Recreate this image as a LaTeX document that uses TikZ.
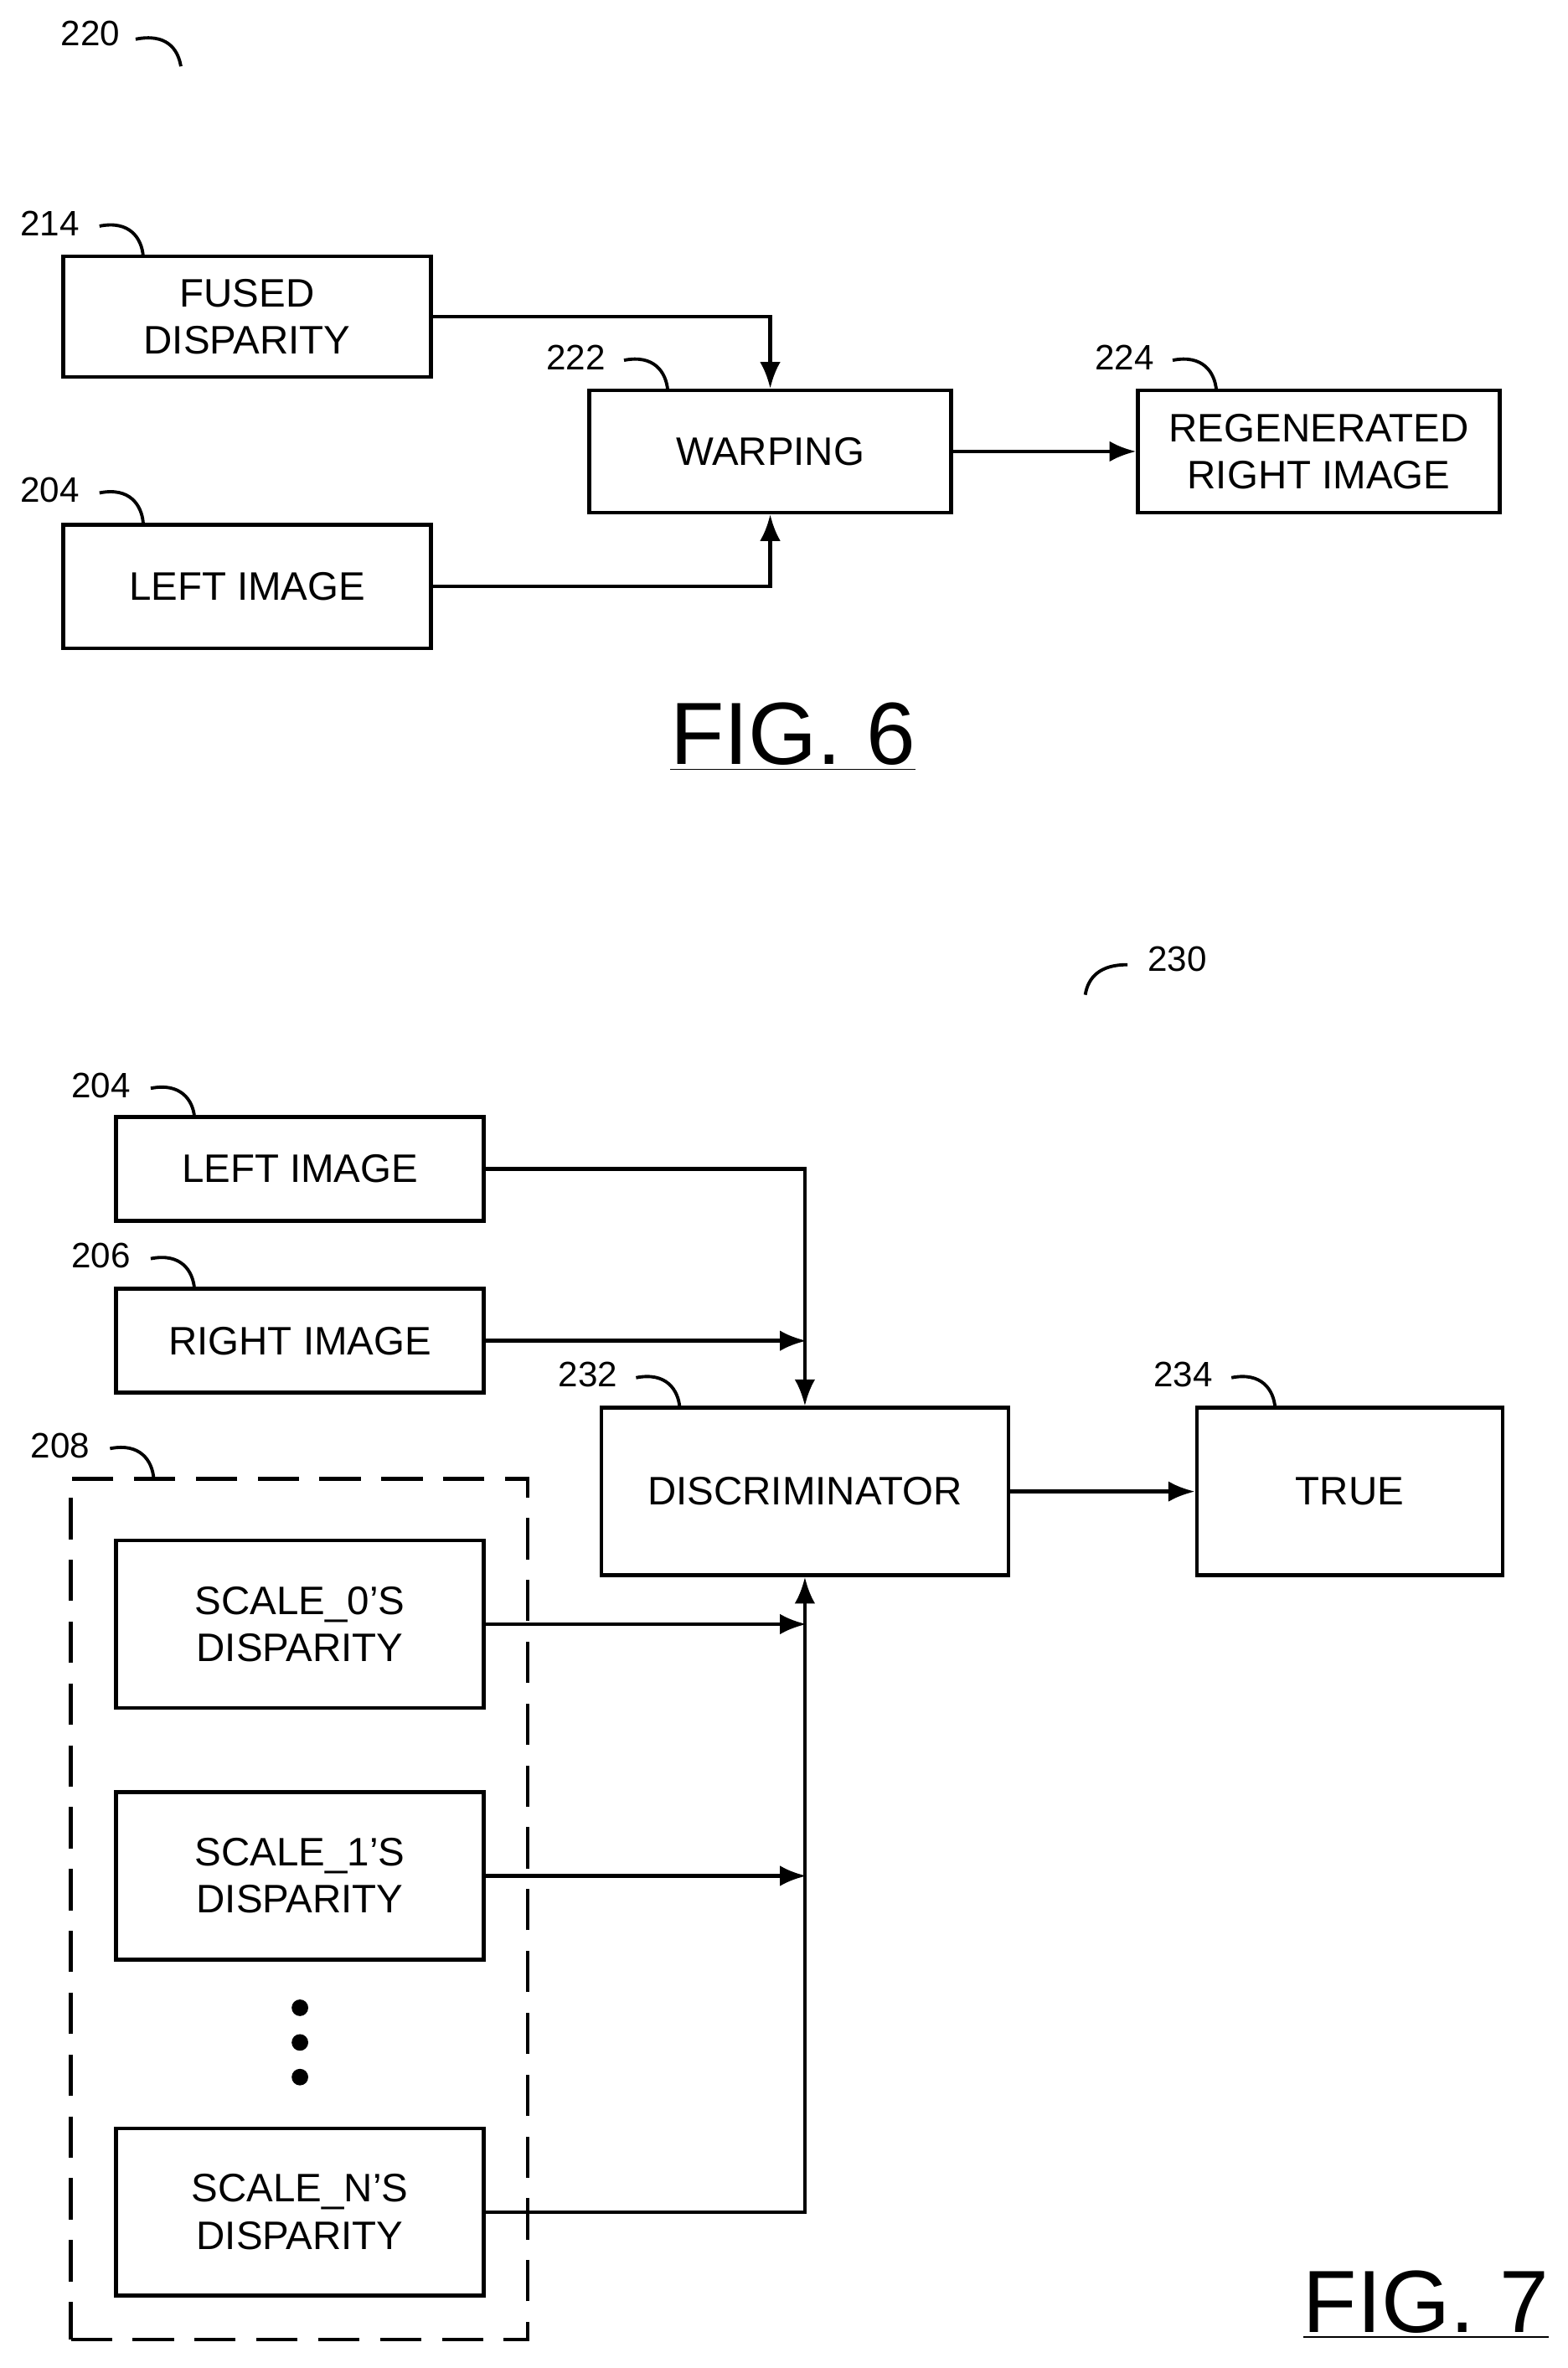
\documentclass[tikz,border=0pt]{standalone}
\usepackage{fontspec}
\setmainfont{Liberation Sans}
\begin{document}
\begin{tikzpicture}[x=0.01799cm,y=-0.01799cm,
 box/.style={draw,line width=1.3pt,inner sep=0pt,align=center,font=\fontsize{13.5}{16}\selectfont},
 lab/.style={font=\fontsize{12}{14}\selectfont,inner sep=1pt},
 arr/.style={line width=1.3pt,-{Latex[length=9pt,width=7pt]}},
 ln/.style={line width=1.3pt},
 curl/.style={line width=1.1pt}]
\usetikzlibrary{arrows.meta}
\useasboundingbox (0,0) rectangle (1040,1571);
% FIG 6
\node[box,minimum width=244*0.01799cm,minimum height=80*0.01799cm] (fd) at (164,210) {FUSED\\DISPARITY};
\node[box,minimum width=244*0.01799cm,minimum height=82*0.01799cm] (li6) at (164,389) {LEFT IMAGE};
\node[box,minimum width=240*0.01799cm,minimum height=81*0.01799cm] (wp) at (511,299.5) {WARPING};
\node[box,minimum width=240*0.01799cm,minimum height=81*0.01799cm] (rr) at (875,299.5) {REGENERATED\\RIGHT IMAGE};
\draw[arr] (fd.east) -| (wp.north);
\draw[arr] (li6.east) -| (wp.south);
\draw[arr] (wp.east) -- (rr.west);
\node[lab] (l220) at (60,22) {220};
\draw[curl] (90,26) .. controls (110,22) and (118,32) .. (120,44);
\node[lab] (l214) at (33,148) {214};
\draw[curl] (66,150) .. controls (86,146) and (94,158) .. (95,170);
\node[lab] (l204a) at (33,325) {204};
\draw[curl] (66,327) .. controls (86,323) and (94,335) .. (95,347);
\node[lab] (l222) at (382,237) {222};
\draw[curl] (414,239) .. controls (434,235) and (442,247) .. (443,259);
\node[lab] (l224) at (746,237) {224};
\draw[curl] (778,239) .. controls (798,235) and (806,247) .. (807,259);
\node[font=\fontsize{30}{34}\selectfont,inner sep=0pt] (f6) at (526,489) {\underline{FIG. 6}};
% FIG 7
\node[lab] (l230) at (781,636) {230};
\draw[curl] (748,640) .. controls (730,640) and (722,648) .. (720,660);
\node[box,minimum width=244*0.01799cm,minimum height=69*0.01799cm] (li7) at (199,775.5) {LEFT IMAGE};
\node[box,minimum width=244*0.01799cm,minimum height=69*0.01799cm] (ri7) at (199,889.5) {RIGHT IMAGE};
\node[box,minimum width=270*0.01799cm,minimum height=111*0.01799cm] (dc) at (534,989.5) {DISCRIMINATOR};
\node[box,minimum width=203*0.01799cm,minimum height=111*0.01799cm] (tr) at (895.5,989.5) {TRUE};
\node[draw,line width=1.3pt,dash pattern=on 14pt off 7pt,minimum width=303*0.01799cm,minimum height=571*0.01799cm,inner sep=0pt] (grp) at (198.5,1266.5) {};
\node[box,minimum width=244*0.01799cm,minimum height=111*0.01799cm] (s0) at (199,1077.5) {SCALE\_0'S\\DISPARITY};
\node[box,minimum width=244*0.01799cm,minimum height=111*0.01799cm] (s1) at (199,1244.5) {SCALE\_1'S\\DISPARITY};
\node[box,minimum width=244*0.01799cm,minimum height=111*0.01799cm] (sn) at (199,1467.5) {SCALE\_N'S\\DISPARITY};
\foreach \yy/\nm in {1332/d1,1355/d2,1378/d3}{\fill (199,\yy) circle (5.5) coordinate (\nm);}
\coordinate (jr) at (535,889.5);
\coordinate (j0) at (535,1077.5);
\coordinate (j1) at (535,1244.5);
\draw[arr] (li7.east) -| (dc.north);
\draw[arr] (ri7.east) -- (jr);
\draw[arr] (s0.east) -- (j0);
\draw[arr] (s1.east) -- (j1);
\draw[arr] (sn.east) -| (dc.south);
\draw[arr] (dc.east) -- (tr.west);
\node[lab] (l204b) at (67,720) {204};
\draw[curl] (100,722) .. controls (120,718) and (128,730) .. (129,741);
\node[lab] (l206) at (67,833) {206};
\draw[curl] (100,835) .. controls (120,831) and (128,843) .. (129,855);
\node[lab] (l232) at (390,912) {232};
\draw[curl] (422,914) .. controls (442,910) and (450,922) .. (451,934);
\node[lab] (l234) at (785,912) {234};
\draw[curl] (817,914) .. controls (837,910) and (845,922) .. (846,934);
\node[lab] (l208) at (40,959) {208};
\draw[curl] (73,961) .. controls (93,957) and (101,969) .. (102,981);
\node[font=\fontsize{30}{34}\selectfont,inner sep=0pt] (f7) at (946,1529) {\underline{FIG. 7}};
\end{tikzpicture}
\end{document}
